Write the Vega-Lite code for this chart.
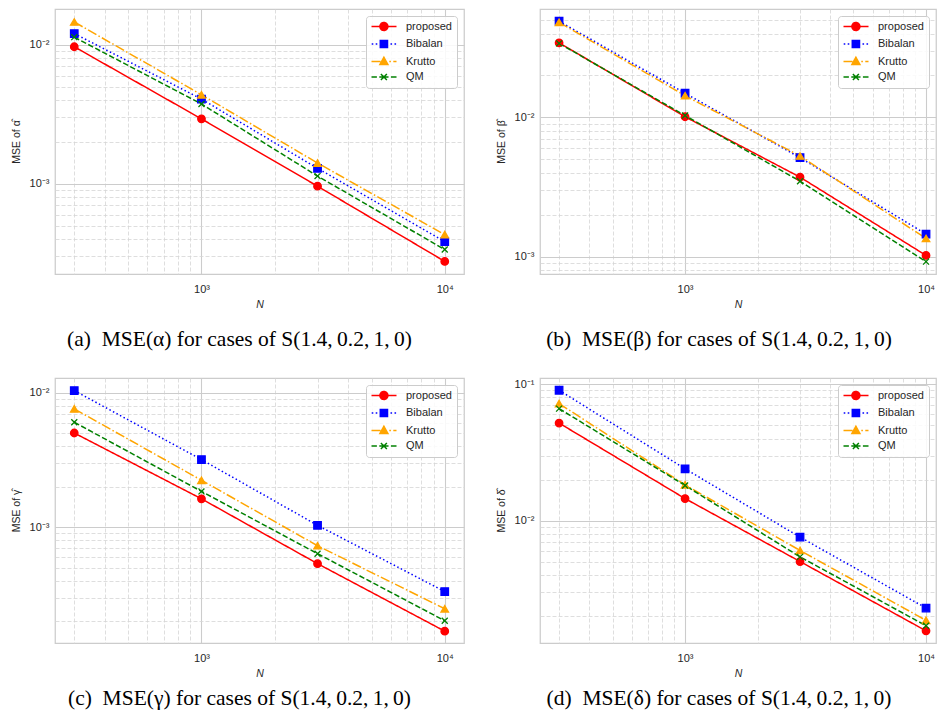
{
  "$schema": "https://vega.github.io/schema/vega-lite/v6.json",
  "padding": {"left": 10, "top": 8, "right": 0, "bottom": 0},
  "background": "white",
  "datasets": {
    "mse": [
      {"panel": "a", "method": "proposed", "N": 300, "mse": 0.00968},
      {"panel": "a", "method": "proposed", "N": 1000, "mse": 0.00293},
      {"panel": "a", "method": "proposed", "N": 3000, "mse": 0.00096},
      {"panel": "a", "method": "proposed", "N": 10000, "mse": 0.000276},
      {"panel": "a", "method": "Bibalan", "N": 300, "mse": 0.01205},
      {"panel": "a", "method": "Bibalan", "N": 1000, "mse": 0.00407},
      {"panel": "a", "method": "Bibalan", "N": 3000, "mse": 0.00129},
      {"panel": "a", "method": "Bibalan", "N": 10000, "mse": 0.000383},
      {"panel": "a", "method": "Krutto", "N": 300, "mse": 0.0146},
      {"panel": "a", "method": "Krutto", "N": 1000, "mse": 0.00437},
      {"panel": "a", "method": "Krutto", "N": 3000, "mse": 0.00141},
      {"panel": "a", "method": "Krutto", "N": 10000, "mse": 0.00043},
      {"panel": "a", "method": "QM", "N": 300, "mse": 0.01135},
      {"panel": "a", "method": "QM", "N": 1000, "mse": 0.00375},
      {"panel": "a", "method": "QM", "N": 3000, "mse": 0.001135},
      {"panel": "a", "method": "QM", "N": 10000, "mse": 0.000336},

      {"panel": "b", "method": "proposed", "N": 300, "mse": 0.0343},
      {"panel": "b", "method": "proposed", "N": 1000, "mse": 0.0101},
      {"panel": "b", "method": "proposed", "N": 3000, "mse": 0.00372},
      {"panel": "b", "method": "proposed", "N": 10000, "mse": 0.00102},
      {"panel": "b", "method": "Bibalan", "N": 300, "mse": 0.0491},
      {"panel": "b", "method": "Bibalan", "N": 1000, "mse": 0.0149},
      {"panel": "b", "method": "Bibalan", "N": 3000, "mse": 0.00514},
      {"panel": "b", "method": "Bibalan", "N": 10000, "mse": 0.00145},
      {"panel": "b", "method": "Krutto", "N": 300, "mse": 0.0481},
      {"panel": "b", "method": "Krutto", "N": 1000, "mse": 0.0143},
      {"panel": "b", "method": "Krutto", "N": 3000, "mse": 0.00528},
      {"panel": "b", "method": "Krutto", "N": 10000, "mse": 0.00135},
      {"panel": "b", "method": "QM", "N": 300, "mse": 0.034},
      {"panel": "b", "method": "QM", "N": 1000, "mse": 0.0103},
      {"panel": "b", "method": "QM", "N": 3000, "mse": 0.00348},
      {"panel": "b", "method": "QM", "N": 10000, "mse": 0.00092},

      {"panel": "c", "method": "proposed", "N": 300, "mse": 0.00503},
      {"panel": "c", "method": "proposed", "N": 1000, "mse": 0.00163},
      {"panel": "c", "method": "proposed", "N": 3000, "mse": 0.000537},
      {"panel": "c", "method": "proposed", "N": 10000, "mse": 0.000169},
      {"panel": "c", "method": "Bibalan", "N": 300, "mse": 0.0104},
      {"panel": "c", "method": "Bibalan", "N": 1000, "mse": 0.00319},
      {"panel": "c", "method": "Bibalan", "N": 3000, "mse": 0.001035},
      {"panel": "c", "method": "Bibalan", "N": 10000, "mse": 0.000333},
      {"panel": "c", "method": "Krutto", "N": 300, "mse": 0.0076},
      {"panel": "c", "method": "Krutto", "N": 1000, "mse": 0.00224},
      {"panel": "c", "method": "Krutto", "N": 3000, "mse": 0.00073},
      {"panel": "c", "method": "Krutto", "N": 10000, "mse": 0.000248},
      {"panel": "c", "method": "QM", "N": 300, "mse": 0.00605},
      {"panel": "c", "method": "QM", "N": 1000, "mse": 0.00185},
      {"panel": "c", "method": "QM", "N": 3000, "mse": 0.000637},
      {"panel": "c", "method": "QM", "N": 10000, "mse": 0.000202},

      {"panel": "d", "method": "proposed", "N": 300, "mse": 0.0519},
      {"panel": "d", "method": "proposed", "N": 1000, "mse": 0.01452},
      {"panel": "d", "method": "proposed", "N": 3000, "mse": 0.00502},
      {"panel": "d", "method": "proposed", "N": 10000, "mse": 0.00156},
      {"panel": "d", "method": "Bibalan", "N": 300, "mse": 0.0903},
      {"panel": "d", "method": "Bibalan", "N": 1000, "mse": 0.024},
      {"panel": "d", "method": "Bibalan", "N": 3000, "mse": 0.00758},
      {"panel": "d", "method": "Bibalan", "N": 10000, "mse": 0.00229},
      {"panel": "d", "method": "Krutto", "N": 300, "mse": 0.0721},
      {"panel": "d", "method": "Krutto", "N": 1000, "mse": 0.0183},
      {"panel": "d", "method": "Krutto", "N": 3000, "mse": 0.00605},
      {"panel": "d", "method": "Krutto", "N": 10000, "mse": 0.00186},
      {"panel": "d", "method": "QM", "N": 300, "mse": 0.0662},
      {"panel": "d", "method": "QM", "N": 1000, "mse": 0.0181},
      {"panel": "d", "method": "QM", "N": 3000, "mse": 0.00543},
      {"panel": "d", "method": "QM", "N": 10000, "mse": 0.0017}
    ]
  },
  "data": {"name": "mse"},
  "columns": 2,
  "spacing": {"row": 26, "column": 30},
  "align": "each",
  "resolve": {
    "scale": {"color": "independent", "x": "independent", "y": "independent"},
    "legend": {"color": "independent"}
  },
  "concat": [
    {
      "width": 409, "height": 265,
      "title": {"text": "(a)\u2002MSE(α) for cases of S(1.4,\u20090.2,\u20091,\u20090)", "orient": "bottom", "dx": -20, "offset": 19},
      "transform": [{"filter": "datum.panel == 'a'"}],
      "encoding": {
        "x": {"field": "N", "type": "quantitative", "title": "N",
          "scale": {"type": "log", "domain": [250, 12000], "nice": false},
          "axis": {"values": [300, 400, 500, 600, 700, 800, 900, 1000, 2000, 3000, 4000, 5000, 6000, 7000, 8000, 9000, 10000],
            "labelExpr": "datum.value == 1000 ? '10³' : datum.value == 10000 ? '10⁴' : ''"}},
        "y": {"field": "mse", "type": "quantitative", "title": "MSE of α̂",
          "scale": {"type": "log", "domain": [0.000224, 0.0181], "nice": false},
          "axis": {"values": [0.0003, 0.0004, 0.0005, 0.0006, 0.0007, 0.0008, 0.0009, 0.001, 0.002, 0.003, 0.004, 0.005, 0.006, 0.007, 0.008, 0.009, 0.01],
            "labelExpr": "datum.value == 0.01 ? '10⁻²' : datum.value == 0.001 ? '10⁻³' : ''"}},
        "color": {"field": "method", "type": "nominal",
          "scale": {"domain": ["proposed", "Bibalan", "Krutto", "QM"], "range": ["#ff0000", "#0000ff", "#ffa500", "#008000"]},
          "legend": {
            "symbolType": "circle",
            "encoding": {"symbols": {
              "shape": {"value": {"expr": "datum.value === 'proposed' ? 'M-1.25,0L5,0M2.85,0A1,1,0,1,1,0.85,0A1,1,0,1,1,2.85,0Z' : datum.value === 'Bibalan' ? 'M-1.2,0L-0.8,0M-0.2,0L0.2,0M3.5,0L3.9,0M4.5,0L4.9,0M0.95,-0.9L2.75,-0.9L2.75,0.9L0.95,0.9Z' : datum.value === 'Krutto' ? 'M-1.25,0L1,0M3.2,0L3.6,0M4.2,0L5,0M1.85,-1.05L2.85,0.75L0.85,0.75Z' : 'M-1.25,0L0.1,0M0.7,0L3,0M3.6,0L5,0M1.1,-0.75L2.6,0.75M1.1,0.75L2.6,-0.75'"}},
              "fill": {"value": {"expr": "datum.value === 'proposed' ? '#ff0000' : datum.value === 'Bibalan' ? '#0000ff' : datum.value === 'Krutto' ? '#ffa500' : '#008000'"}},
              "stroke": {"value": {"expr": "datum.value === 'proposed' ? '#ff0000' : datum.value === 'Bibalan' ? '#0000ff' : datum.value === 'Krutto' ? '#ffa500' : '#008000'"}},
              "strokeWidth": {"value": 1.5}, "opacity": {"value": 1}, "fillOpacity": {"value": 1}, "strokeOpacity": {"value": 1}, "strokeDash": {"value": [1, 0]}
            }}
          }}
      },
      "layer": [
        {"mark": {"type": "line", "strokeWidth": 1.5,
           "strokeDash": {"expr": "datum.method === 'Bibalan' ? [1.5, 2.5] : datum.method === 'Krutto' ? [9.6, 2.4, 1.5, 2.4] : datum.method === 'QM' ? [5.5, 2.4] : [1, 0]"}}},
        {"mark": {"type": "point", "filled": true, "size": 56, "strokeWidth": 1.3, "opacity": 1,
           "shape": {"expr": "datum.method === 'proposed' ? 'circle' : datum.method === 'Bibalan' ? 'square' : datum.method === 'Krutto' ? 'triangle-up' : 'M-0.8,-0.8L0.8,0.8M-0.8,0.8L0.8,-0.8'"},
           "stroke": {"expr": "datum.method === 'proposed' ? '#ff0000' : datum.method === 'Bibalan' ? '#0000ff' : datum.method === 'Krutto' ? '#ffa500' : '#008000'"}}}
      ]
    },
    {
      "width": 396, "height": 265,
      "title": {"text": "(b)\u2002MSE(β) for cases of S(1.4,\u20090.2,\u20091,\u20090)", "orient": "bottom", "dx": -19, "offset": 19},
      "transform": [{"filter": "datum.panel == 'b'"}],
      "encoding": {
        "x": {"field": "N", "type": "quantitative", "title": "N",
          "scale": {"type": "log", "domain": [250, 11000], "nice": false},
          "axis": {"values": [300, 400, 500, 600, 700, 800, 900, 1000, 2000, 3000, 4000, 5000, 6000, 7000, 8000, 9000, 10000],
            "labelExpr": "datum.value == 1000 ? '10³' : datum.value == 10000 ? '10⁴' : ''"}},
        "y": {"field": "mse", "type": "quantitative", "title": "MSE of β̂",
          "scale": {"type": "log", "domain": [0.00075, 0.06], "nice": false},
          "axis": {"values": [0.0008, 0.0009, 0.001, 0.002, 0.003, 0.004, 0.005, 0.006, 0.007, 0.008, 0.009, 0.01, 0.02, 0.03, 0.04, 0.05],
            "labelExpr": "datum.value == 0.01 ? '10⁻²' : datum.value == 0.001 ? '10⁻³' : ''"}},
        "color": {"field": "method", "type": "nominal",
          "scale": {"domain": ["proposed", "Bibalan", "Krutto", "QM"], "range": ["#ff0000", "#0000ff", "#ffa500", "#008000"]},
          "legend": {
            "symbolType": "circle",
            "encoding": {"symbols": {
              "shape": {"value": {"expr": "datum.value === 'proposed' ? 'M-1.25,0L5,0M2.85,0A1,1,0,1,1,0.85,0A1,1,0,1,1,2.85,0Z' : datum.value === 'Bibalan' ? 'M-1.2,0L-0.8,0M-0.2,0L0.2,0M3.5,0L3.9,0M4.5,0L4.9,0M0.95,-0.9L2.75,-0.9L2.75,0.9L0.95,0.9Z' : datum.value === 'Krutto' ? 'M-1.25,0L1,0M3.2,0L3.6,0M4.2,0L5,0M1.85,-1.05L2.85,0.75L0.85,0.75Z' : 'M-1.25,0L0.1,0M0.7,0L3,0M3.6,0L5,0M1.1,-0.75L2.6,0.75M1.1,0.75L2.6,-0.75'"}},
              "fill": {"value": {"expr": "datum.value === 'proposed' ? '#ff0000' : datum.value === 'Bibalan' ? '#0000ff' : datum.value === 'Krutto' ? '#ffa500' : '#008000'"}},
              "stroke": {"value": {"expr": "datum.value === 'proposed' ? '#ff0000' : datum.value === 'Bibalan' ? '#0000ff' : datum.value === 'Krutto' ? '#ffa500' : '#008000'"}},
              "strokeWidth": {"value": 1.5}, "opacity": {"value": 1}, "fillOpacity": {"value": 1}, "strokeOpacity": {"value": 1}, "strokeDash": {"value": [1, 0]}
            }}
          }}
      },
      "layer": [
        {"mark": {"type": "line", "strokeWidth": 1.5,
           "strokeDash": {"expr": "datum.method === 'Bibalan' ? [1.5, 2.5] : datum.method === 'Krutto' ? [9.6, 2.4, 1.5, 2.4] : datum.method === 'QM' ? [5.5, 2.4] : [1, 0]"}}},
        {"mark": {"type": "point", "filled": true, "size": 56, "strokeWidth": 1.3, "opacity": 1,
           "shape": {"expr": "datum.method === 'proposed' ? 'circle' : datum.method === 'Bibalan' ? 'square' : datum.method === 'Krutto' ? 'triangle-up' : 'M-0.8,-0.8L0.8,0.8M-0.8,0.8L0.8,-0.8'"},
           "stroke": {"expr": "datum.method === 'proposed' ? '#ff0000' : datum.method === 'Bibalan' ? '#0000ff' : datum.method === 'Krutto' ? '#ffa500' : '#008000'"}}}
      ]
    },
    {
      "width": 409, "height": 265,
      "title": {"text": "(c)\u2002MSE(γ) for cases of S(1.4,\u20090.2,\u20091,\u20090)", "orient": "bottom", "dx": -20, "offset": 9},
      "transform": [{"filter": "datum.panel == 'c'"}],
      "encoding": {
        "x": {"field": "N", "type": "quantitative", "title": "N",
          "scale": {"type": "log", "domain": [250, 12000], "nice": false},
          "axis": {"values": [300, 400, 500, 600, 700, 800, 900, 1000, 2000, 3000, 4000, 5000, 6000, 7000, 8000, 9000, 10000],
            "labelExpr": "datum.value == 1000 ? '10³' : datum.value == 10000 ? '10⁴' : ''"}},
        "y": {"field": "mse", "type": "quantitative", "title": "MSE of γ̂",
          "scale": {"type": "log", "domain": [0.000138, 0.0129], "nice": false},
          "axis": {"values": [0.0002, 0.0003, 0.0004, 0.0005, 0.0006, 0.0007, 0.0008, 0.0009, 0.001, 0.002, 0.003, 0.004, 0.005, 0.006, 0.007, 0.008, 0.009, 0.01],
            "labelExpr": "datum.value == 0.01 ? '10⁻²' : datum.value == 0.001 ? '10⁻³' : ''"}},
        "color": {"field": "method", "type": "nominal",
          "scale": {"domain": ["proposed", "Bibalan", "Krutto", "QM"], "range": ["#ff0000", "#0000ff", "#ffa500", "#008000"]},
          "legend": {
            "symbolType": "circle",
            "encoding": {"symbols": {
              "shape": {"value": {"expr": "datum.value === 'proposed' ? 'M-1.25,0L5,0M2.85,0A1,1,0,1,1,0.85,0A1,1,0,1,1,2.85,0Z' : datum.value === 'Bibalan' ? 'M-1.2,0L-0.8,0M-0.2,0L0.2,0M3.5,0L3.9,0M4.5,0L4.9,0M0.95,-0.9L2.75,-0.9L2.75,0.9L0.95,0.9Z' : datum.value === 'Krutto' ? 'M-1.25,0L1,0M3.2,0L3.6,0M4.2,0L5,0M1.85,-1.05L2.85,0.75L0.85,0.75Z' : 'M-1.25,0L0.1,0M0.7,0L3,0M3.6,0L5,0M1.1,-0.75L2.6,0.75M1.1,0.75L2.6,-0.75'"}},
              "fill": {"value": {"expr": "datum.value === 'proposed' ? '#ff0000' : datum.value === 'Bibalan' ? '#0000ff' : datum.value === 'Krutto' ? '#ffa500' : '#008000'"}},
              "stroke": {"value": {"expr": "datum.value === 'proposed' ? '#ff0000' : datum.value === 'Bibalan' ? '#0000ff' : datum.value === 'Krutto' ? '#ffa500' : '#008000'"}},
              "strokeWidth": {"value": 1.5}, "opacity": {"value": 1}, "fillOpacity": {"value": 1}, "strokeOpacity": {"value": 1}, "strokeDash": {"value": [1, 0]}
            }}
          }}
      },
      "layer": [
        {"mark": {"type": "line", "strokeWidth": 1.5,
           "strokeDash": {"expr": "datum.method === 'Bibalan' ? [1.5, 2.5] : datum.method === 'Krutto' ? [9.6, 2.4, 1.5, 2.4] : datum.method === 'QM' ? [5.5, 2.4] : [1, 0]"}}},
        {"mark": {"type": "point", "filled": true, "size": 56, "strokeWidth": 1.3, "opacity": 1,
           "shape": {"expr": "datum.method === 'proposed' ? 'circle' : datum.method === 'Bibalan' ? 'square' : datum.method === 'Krutto' ? 'triangle-up' : 'M-0.8,-0.8L0.8,0.8M-0.8,0.8L0.8,-0.8'"},
           "stroke": {"expr": "datum.method === 'proposed' ? '#ff0000' : datum.method === 'Bibalan' ? '#0000ff' : datum.method === 'Krutto' ? '#ffa500' : '#008000'"}}}
      ]
    },
    {
      "width": 396, "height": 265,
      "title": {"text": "(d)\u2002MSE(δ) for cases of S(1.4,\u20090.2,\u20091,\u20090)", "orient": "bottom", "dx": -19, "offset": 9},
      "transform": [{"filter": "datum.panel == 'd'"}],
      "encoding": {
        "x": {"field": "N", "type": "quantitative", "title": "N",
          "scale": {"type": "log", "domain": [250, 11000], "nice": false},
          "axis": {"values": [300, 400, 500, 600, 700, 800, 900, 1000, 2000, 3000, 4000, 5000, 6000, 7000, 8000, 9000, 10000],
            "labelExpr": "datum.value == 1000 ? '10³' : datum.value == 10000 ? '10⁴' : ''"}},
        "y": {"field": "mse", "type": "quantitative", "title": "MSE of δ̂",
          "scale": {"type": "log", "domain": [0.00127, 0.111], "nice": false},
          "axis": {"values": [0.002, 0.003, 0.004, 0.005, 0.006, 0.007, 0.008, 0.009, 0.01, 0.02, 0.03, 0.04, 0.05, 0.06, 0.07, 0.08, 0.09, 0.1],
            "labelExpr": "datum.value == 0.1 ? '10⁻¹' : datum.value == 0.01 ? '10⁻²' : ''"}},
        "color": {"field": "method", "type": "nominal",
          "scale": {"domain": ["proposed", "Bibalan", "Krutto", "QM"], "range": ["#ff0000", "#0000ff", "#ffa500", "#008000"]},
          "legend": {
            "symbolType": "circle",
            "encoding": {"symbols": {
              "shape": {"value": {"expr": "datum.value === 'proposed' ? 'M-1.25,0L5,0M2.85,0A1,1,0,1,1,0.85,0A1,1,0,1,1,2.85,0Z' : datum.value === 'Bibalan' ? 'M-1.2,0L-0.8,0M-0.2,0L0.2,0M3.5,0L3.9,0M4.5,0L4.9,0M0.95,-0.9L2.75,-0.9L2.75,0.9L0.95,0.9Z' : datum.value === 'Krutto' ? 'M-1.25,0L1,0M3.2,0L3.6,0M4.2,0L5,0M1.85,-1.05L2.85,0.75L0.85,0.75Z' : 'M-1.25,0L0.1,0M0.7,0L3,0M3.6,0L5,0M1.1,-0.75L2.6,0.75M1.1,0.75L2.6,-0.75'"}},
              "fill": {"value": {"expr": "datum.value === 'proposed' ? '#ff0000' : datum.value === 'Bibalan' ? '#0000ff' : datum.value === 'Krutto' ? '#ffa500' : '#008000'"}},
              "stroke": {"value": {"expr": "datum.value === 'proposed' ? '#ff0000' : datum.value === 'Bibalan' ? '#0000ff' : datum.value === 'Krutto' ? '#ffa500' : '#008000'"}},
              "strokeWidth": {"value": 1.5}, "opacity": {"value": 1}, "fillOpacity": {"value": 1}, "strokeOpacity": {"value": 1}, "strokeDash": {"value": [1, 0]}
            }}
          }}
      },
      "layer": [
        {"mark": {"type": "line", "strokeWidth": 1.5,
           "strokeDash": {"expr": "datum.method === 'Bibalan' ? [1.5, 2.5] : datum.method === 'Krutto' ? [9.6, 2.4, 1.5, 2.4] : datum.method === 'QM' ? [5.5, 2.4] : [1, 0]"}}},
        {"mark": {"type": "point", "filled": true, "size": 56, "strokeWidth": 1.3, "opacity": 1,
           "shape": {"expr": "datum.method === 'proposed' ? 'circle' : datum.method === 'Bibalan' ? 'square' : datum.method === 'Krutto' ? 'triangle-up' : 'M-0.8,-0.8L0.8,0.8M-0.8,0.8L0.8,-0.8'"},
           "stroke": {"expr": "datum.method === 'proposed' ? '#ff0000' : datum.method === 'Bibalan' ? '#0000ff' : datum.method === 'Krutto' ? '#ffa500' : '#008000'"}}}
      ]
    }
  ],
  "config": {
    "font": "Liberation Sans",
    "view": {"stroke": "#cccccc", "strokeWidth": 1.25},
    "axis": {
      "labelFont": "Liberation Sans", "labelFontSize": 11, "labelColor": "#262626",
      "titleFont": "Liberation Sans", "titleFontSize": 10.5, "titleFontWeight": "normal", "titleColor": "#262626",
      "ticks": false, "domain": false, "grid": true, "labelOverlap": false, "labelFlush": false,
      "gridColor": {"condition": {"test": "datum.value == 1000 || datum.value == 10000 || datum.value == 0.1 || datum.value == 0.01 || datum.value == 0.001", "value": "#cccccc"}, "value": "#d6d6d6"},
      "gridDash": {"condition": {"test": "datum.value == 1000 || datum.value == 10000 || datum.value == 0.1 || datum.value == 0.01 || datum.value == 0.001", "value": []}, "value": [4, 2]},
      "gridWidth": {"condition": {"test": "datum.value == 1000 || datum.value == 10000 || datum.value == 0.1 || datum.value == 0.01 || datum.value == 0.001", "value": 1.1}, "value": 0.8}
    },
    "axisX": {"labelPadding": 9, "titlePadding": 5, "titleFontStyle": "italic"},
    "axisY": {"labelPadding": 6, "titlePadding": 8},
    "legend": {
      "orient": "top-right", "offset": 7, "title": null, "padding": 5,
      "fillColor": "rgba(255,255,255,0.85)", "strokeColor": "#cccccc", "cornerRadius": 3,
      "labelFont": "Liberation Sans", "labelFontSize": 11, "labelColor": "#262626",
      "rowPadding": 2.5, "symbolSize": 64, "labelOffset": 24, "symbolStrokeWidth": 1.5
    },
    "title": {"font": "Liberation Serif", "fontSize": 21.5, "fontWeight": "normal", "color": "#000000", "anchor": "middle"}
  }
}
